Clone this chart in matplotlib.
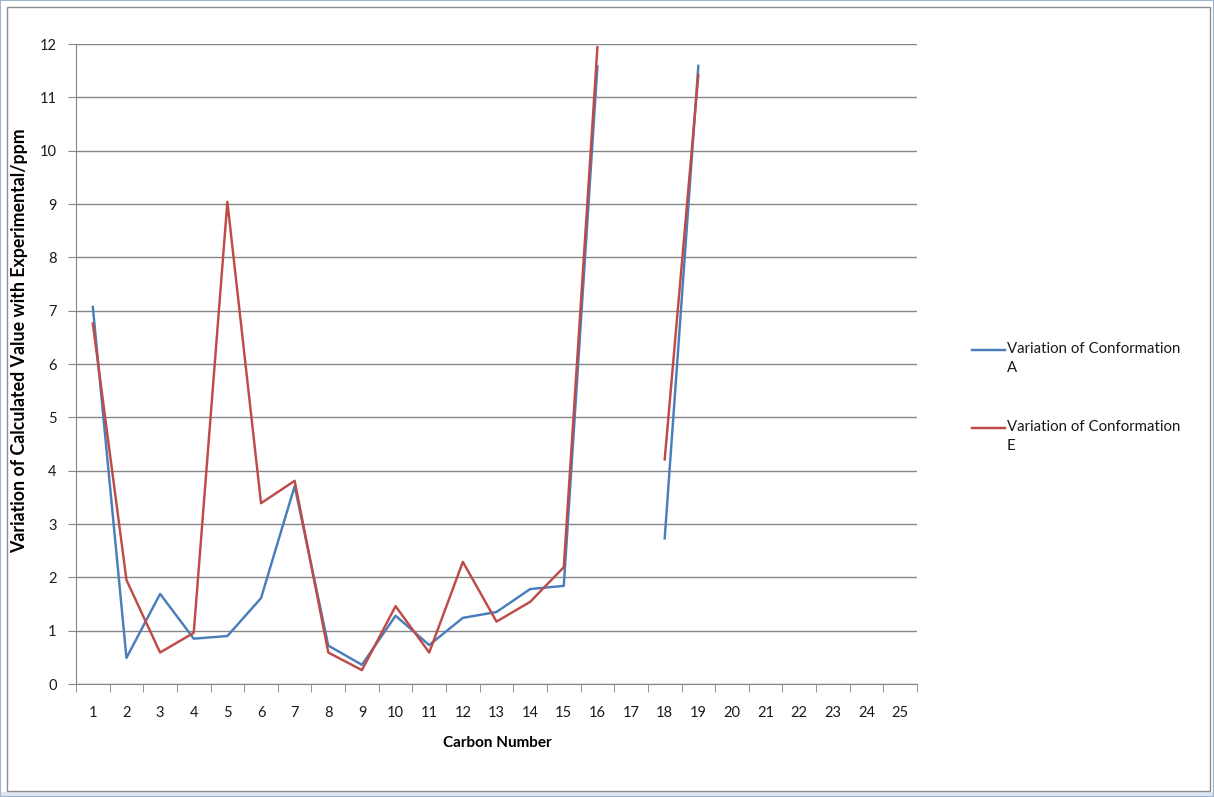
import matplotlib.pyplot as plt
import numpy as np
from matplotlib.lines import Line2D
from matplotlib.patches import Rectangle

plt.rcParams['font.family'] = ['Lato', 'DejaVu Sans']

# Data (None = missing point)
carbons = [str(i) for i in range(1, 26)]
conf_a = [7.07, 0.49, 1.69, 0.85, 0.90, 1.61, 3.71, 0.72, 0.36, 1.28,
          0.73, 1.24, 1.35, 1.78, 1.84, 11.58, None, 2.73, 11.59,
          None, None, None, None, None, None]
conf_e = [6.76, 1.95, 0.59, 0.96, 9.04, 3.39, 3.81, 0.59, 0.26, 1.46,
          0.59, 2.29, 1.17, 1.54, 2.19, 11.94, None, 4.21, 11.42,
          None, None, None, None, None, None]
labels = ['Variation of Conformation\nA', 'Variation of Conformation\nE']
colors = ['#4A7EBB', '#BE4B48']

W, H = 1214, 797
fig = plt.figure(figsize=(W / 100, H / 100), dpi=100)
fig.patch.set_facecolor('white')

# window chrome below the chart + chart frame
fig.add_artist(Rectangle((0, 0), 1, 5 / H, transform=fig.transFigure,
                         facecolor='#dfe6ef', edgecolor='none'))
fig.add_artist(Rectangle((7 / W, 1 - 791 / H), (1210 - 7) / W, (791 - 7) / H,
                         transform=fig.transFigure, fill=False,
                         edgecolor='#8c8c8c', linewidth=1))
fig.add_artist(Rectangle((0, 0), 1, 1, transform=fig.transFigure, fill=False,
                         edgecolor='#9db3cf', linewidth=1.5))

left, right, top, bottom = 76, 917, 44, 684
ax = fig.add_axes([left / W, 1 - bottom / H, (right - left) / W, (bottom - top) / H])

x = np.arange(len(carbons))
ya = np.array([np.nan if v is None else v for v in conf_a])
ye = np.array([np.nan if v is None else v for v in conf_e])
ax.plot(x, ya, color=colors[0], linewidth=1.75, zorder=3)
ax.plot(x, ye, color=colors[1], linewidth=1.75, zorder=4)

ax.set_xlim(-0.5, len(carbons) - 0.5)
ax.set_ylim(0, 12)
ax.set_yticks(range(0, 13))
ax.yaxis.grid(True, color='#868686', linewidth=1)
ax.set_axisbelow(True)

ax.set_xticks(x)
ax.set_xticklabels(carbons)
ax.set_xticks(np.arange(-0.5, len(carbons)), minor=True)
ax.tick_params(axis='x', which='major', length=0, pad=16, labelsize=10.5,
               labelcolor='#1a1a1a')
ax.tick_params(axis='x', which='minor', length=6, color='#868686', direction='out')
ax.tick_params(axis='y', length=6, color='#868686', direction='out', pad=8,
               labelsize=10.5, labelcolor='#1a1a1a')

for s in ['top', 'right']:
    ax.spines[s].set_visible(False)
for s in ['left', 'bottom']:
    ax.spines[s].set_color('#868686')

fig.text(497 / W, 1 - 743 / H, 'Carbon Number', fontsize=11,
         fontweight='bold', ha='center', va='center')
fig.text(20 / W, 1 - 341 / H, 'Variation of Calculated Value with Experimental/ppm',
         fontsize=12.8, fontweight='bold', rotation=90, ha='center', va='center')

# legend drawn by hand so the key aligns with the first text line
for i, (lab, col) in enumerate(zip(labels, colors)):
    yy = 1 - (350 + 78 * i) / H
    fig.add_artist(Line2D([972 / W, 1005 / W], [yy, yy], color=col,
                          linewidth=1.75, transform=fig.transFigure))
    fig.text(1007 / W, yy + 8 / H, lab, fontsize=10.8, va='top', ha='left',
             linespacing=1.45, color='#1a1a1a')

fig.savefig('out.png', dpi=100, facecolor='white')
